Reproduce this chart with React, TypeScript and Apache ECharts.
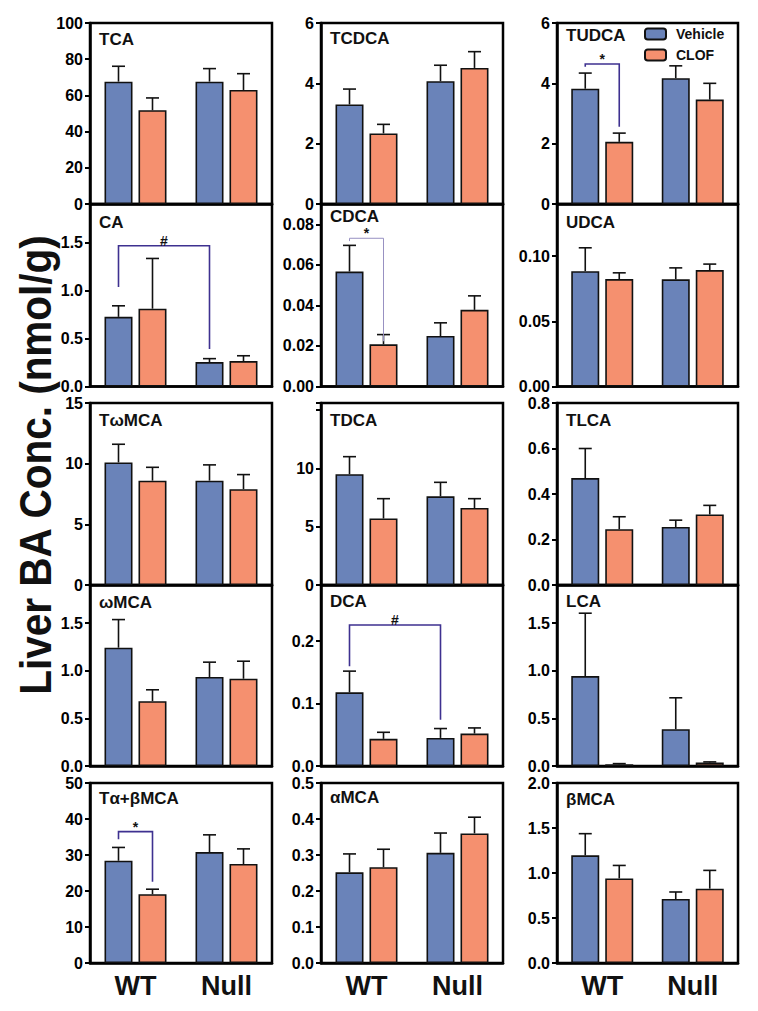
import React, { useEffect, useRef } from "react";
import * as echarts from "echarts";

const groups = ["WT", "Null"];
const panelNames = [
  "TCA", "TCDCA", "TUDCA",
  "CA", "CDCA", "UDCA",
  "TωMCA", "TDCA", "TLCA",
  "ωMCA", "DCA", "LCA",
  "Tα+βMCA", "αMCA", "βMCA",
];
const yMax = [100, 6, 6, 1.9, 0.09, 0.14, 15, 15.6, 0.8, 1.9, 0.29, 1.9, 50, 0.5, 2.0];
const yInterval = [20, 2, 2, 0.5, 0.02, 0.05, 5, 5, 0.2, 0.5, 0.1, 0.5, 10, 0.1, 0.5];
const yDecimals = [0, 0, 0, 1, 2, 2, 0, 0, 1, 1, 1, 1, 0, 1, 1];
// highest tick value that carries a label in each panel
const yLabelCap = [100, 6, 6, 1.5, 0.08, 0.1, 15, 10, 0.8, 1.5, 0.2, 1.5, 50, 0.5, 2.0];

const vehicleMean = [
  [67.6, 67.6], [3.3, 4.07], [3.82, 4.17],
  [0.725, 0.254], [0.0567, 0.0249], [0.0885, 0.0822],
  [10.1, 8.6], [9.5, 7.6], [0.47, 0.255],
  [1.242, 0.934], [0.118, 0.045], [0.944, 0.386],
  [28.4, 30.8], [0.252, 0.306], [1.196, 0.711],
];
const vehicleUpper = [
  [76.1, 74.8], [3.81, 4.6], [4.34, 4.58],
  [0.84, 0.29], [0.0696, 0.0314], [0.1064, 0.091],
  [11.6, 9.9], [11.0, 8.8], [0.6, 0.285],
  [1.537, 1.09], [0.152, 0.06], [1.604, 0.716],
  [32.1, 35.6], [0.303, 0.361], [1.437, 0.789],
];
const clofMean = [
  [51.8, 63.0], [2.34, 4.51], [2.06, 3.46],
  [0.81, 0.265], [0.0208, 0.0378], [0.0824, 0.0893],
  [8.6, 7.9], [5.7, 6.6], [0.245, 0.31],
  [0.681, 0.916], [0.0435, 0.052], [0.018, 0.036],
  [19.1, 27.5], [0.266, 0.36], [0.94, 0.826],
];
const clofUpper = [
  [58.6, 72.0], [2.64, 5.05], [2.35, 4.0],
  [1.333, 0.32], [0.0256, 0.0447], [0.0872, 0.0939],
  [9.7, 9.1], [7.4, 7.4], [0.3, 0.35],
  [0.8, 1.1], [0.054, 0.061], [0.025, 0.043],
  [20.5, 31.7], [0.316, 0.405], [1.084, 1.029],
];

// brackets: panel, from [group, series], to [group, series], top, left end, right end, symbol
const bracketPanel = [2, 3, 4, 10, 12];
const bracketFrom = [[0, 0], [0, 0], [0, 0], [0, 0], [0, 0]];
const bracketTo = [[0, 1], [1, 0], [0, 1], [1, 0], [0, 1]];
const bracketTop = [4.64, 1.465, 0.0731, 0.226, 36.5];
const bracketLeftEnd = [4.55, 1.035, 0.0717, 0.16, 34.4];
const bracketRightEnd = [2.56, 0.39, 0.0223, 0.074, 22.6];
const bracketSymbol = ["*", "#", "*", "#", "*"];
const bracketThin = [false, false, true, false, false];

const colLeft = [90, 321, 557];
const colWidth = [182, 182, 181];
const rowTop = [23, 204, 403, 585, 783];
const rowHeight = [181, 182.5, 182, 181, 180];
const titleDy = [8, 7, 4, 10, 4, 10, 9, 9, 9, 9, 8, 8, 7, 6, 8];

const BLUE = "#6a83b9";
const SALMON = "#f5906f";
const FONT = "Arial, 'Liberation Sans', Helvetica, sans-serif";
const BAR_W = 28;
const HALF_OFF = 17;

export default function App() {
  const ref = useRef<HTMLDivElement>(null);
  useEffect(() => {
    if (!ref.current) return;
    const chart = echarts.init(ref.current, null, { renderer: "svg" });
    const grid: any[] = [];
    const xAxis: any[] = [];
    const yAxis: any[] = [];
    const series: any[] = [];
    const title: any[] = [];
    panelNames.forEach((name, i) => {
      const r = Math.floor(i / 3);
      const c = i % 3;
      grid.push({
        left: colLeft[c],
        top: rowTop[r],
        width: colWidth[c],
        height: rowHeight[r],
        show: true,
        borderColor: "#000",
        borderWidth: 2.5,
        backgroundColor: "transparent",
        containLabel: false,
      });
      xAxis.push({
        type: "category",
        gridIndex: i,
        data: groups,
        axisLine: { show: true, lineStyle: { color: "#000", width: 2.5 } },
        axisTick: { show: false },
        axisLabel: {
          show: r === 4,
          fontSize: 27,
          fontWeight: "bold",
          color: "#111",
          fontFamily: FONT,
          margin: 9,
        },
        splitLine: { show: false },
      });
      const dec = yDecimals[i];
      const cap = yLabelCap[i];
      yAxis.push({
        type: "value",
        gridIndex: i,
        min: 0,
        max: yMax[i],
        interval: yInterval[i],
        axisLine: { show: true, lineStyle: { color: "#000", width: 2.5 } },
        axisTick: { show: true, length: 5, lineStyle: { color: "#000", width: 2 } },
        axisLabel: {
          fontSize: 16,
          fontWeight: "bold",
          color: "#000",
          fontFamily: FONT,
          margin: 7,
          showMaxLabel: true,
          formatter: (v: number) => (v > cap + 1e-9 ? "" : v.toFixed(dec)),
        },
        splitLine: { show: false },
      });
      title.push({
        text: name,
        left: colLeft[c] + 9,
        top: rowTop[r] + titleDy[i],
        padding: 0,
        textStyle: { fontSize: 17, fontWeight: "bold", color: "#111", fontFamily: FONT },
      });
      series.push({
        type: "bar",
        name: "Vehicle",
        xAxisIndex: i,
        yAxisIndex: i,
        data: vehicleMean[i],
        barWidth: BAR_W,
        barGap: "21.4%",
        itemStyle: { color: BLUE, borderColor: "#111", borderWidth: 1.6 },
        z: 2,
      });
      series.push({
        type: "bar",
        name: "CLOF",
        xAxisIndex: i,
        yAxisIndex: i,
        data: clofMean[i],
        barWidth: BAR_W,
        barGap: "21.4%",
        itemStyle: { color: SALMON, borderColor: "#111", borderWidth: 1.6 },
        z: 2,
      });
      const errData: number[][] = [];
      for (let g = 0; g < 2; g++) {
        errData.push([g, vehicleMean[i][g], vehicleUpper[i][g], 0]);
        errData.push([g, clofMean[i][g], clofUpper[i][g], 1]);
      }
      series.push({
        type: "custom",
        xAxisIndex: i,
        yAxisIndex: i,
        data: errData,
        z: 3,
        silent: true,
        renderItem: (params: any, api: any) => {
          const g = api.value(0);
          const base = api.coord([g, api.value(1)]);
          const top = api.coord([g, api.value(2)]);
          const x = base[0] + (api.value(3) === 0 ? -HALF_OFF : HALF_OFF);
          return {
            type: "group",
            children: [
              { type: "line", shape: { x1: x, y1: base[1], x2: x, y2: top[1] }, style: { stroke: "#111", lineWidth: 1.6 } },
              { type: "line", shape: { x1: x - 6.5, y1: top[1], x2: x + 6.5, y2: top[1] }, style: { stroke: "#111", lineWidth: 1.6 } },
            ],
          };
        },
      });
    });

    bracketPanel.forEach((p, k) => {
      series.push({
        type: "custom",
        xAxisIndex: p,
        yAxisIndex: p,
        data: [[bracketFrom[k][0], bracketTo[k][0], bracketTop[k], bracketLeftEnd[k], bracketRightEnd[k]]],
        z: 4,
        silent: true,
        renderItem: (params: any, api: any) => {
          const a = api.coord([api.value(0), api.value(2)]);
          const b = api.coord([api.value(1), api.value(2)]);
          const la = api.coord([api.value(0), api.value(3)]);
          const rb = api.coord([api.value(1), api.value(4)]);
          const x1 = a[0] + (bracketFrom[k][1] === 0 ? -HALF_OFF : HALF_OFF);
          const x2 = b[0] + (bracketTo[k][1] === 0 ? -HALF_OFF : HALF_OFF);
          const thin = bracketThin[k];
          return {
            type: "group",
            children: [
              {
                type: "polyline",
                shape: { points: [[x1, la[1]], [x1, a[1]], [x2, a[1]], [x2, rb[1]]] },
                style: { stroke: thin ? "#9891c2" : "#3e3190", lineWidth: thin ? 1 : 1.6, fill: "none" },
              },
              {
                type: "text",
                x: (x1 + x2) / 2,
                y: a[1] + 2,
                style: {
                  text: bracketSymbol[k],
                  fill: "#111",
                  font: `bold 14px ${FONT}`,
                  align: "center",
                  verticalAlign: "bottom",
                },
              },
            ],
          };
        },
      });
    });

    chart.setOption({
      animation: false,
      textStyle: { fontFamily: FONT },
      title,
      grid,
      xAxis,
      yAxis,
      series,
      legend: {
        data: ["Vehicle", "CLOF"],
        orient: "vertical",
        left: 644,
        top: 27,
        padding: 0,
        itemWidth: 21,
        itemHeight: 11,
        itemGap: 7,
        selectedMode: false,
        textStyle: { fontSize: 14, fontWeight: "bold", color: "#111", fontFamily: FONT, padding: [0, 0, 0, 5] },
      },
      graphic: [
        {
          type: "text",
          x: 35,
          y: 465,
          rotation: Math.PI / 2,
          scaleX: 0.9,
          style: {
            text: "Liver BA Conc. (nmol/g)",
            fill: "#111",
            font: `bold 45px ${FONT}`,
            align: "center",
            verticalAlign: "middle",
          },
        },
      ],
    });
    return () => chart.dispose();
  }, []);
  return (
    <div
      ref={ref}
      style={{ position: "absolute", left: 0, top: 0, width: 758, height: 1011, background: "#fff" }}
    />
  );
}
